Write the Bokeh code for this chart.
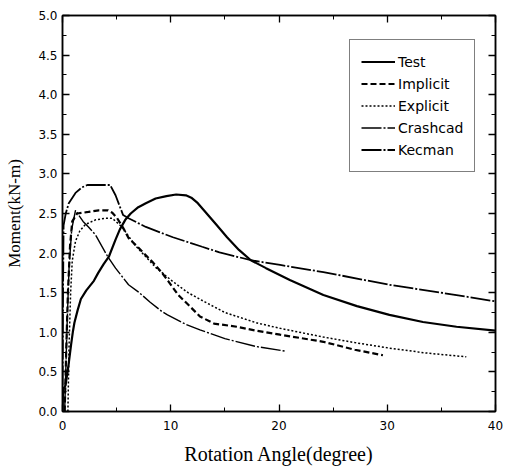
from bokeh.plotting import figure
from bokeh.models import (Range1d, LinearAxis, Legend, LegendItem, SingleIntervalTicker,
                          PrintfTickFormatter, CustomJSTickFormatter)
from bokeh.embed import file_html
from bokeh.resources import INLINE

# ---- data ----
test_x = [0, 0.05, 0.28, 0.57, 0.8, 0.95, 1.1, 1.4, 1.7, 2.2, 2.9, 3.3, 3.8, 4.3, 4.9, 5.3, 5.8,
          6.3, 7.0, 7.7, 8.6, 9.6, 10.5, 11.4, 11.9, 12.5, 13.2, 14.2, 15.2, 16.3, 17.4, 18.8,
          21.0, 24.1, 27.2, 30.2, 33.3, 36.4, 40.0]
test_y = [0, 0.28, 0.33, 0.6, 0.85, 1.0, 1.12, 1.28, 1.42, 1.53, 1.65, 1.75, 1.86, 1.96, 2.17, 2.3, 2.42,
          2.5, 2.58, 2.63, 2.69, 2.72, 2.74, 2.73, 2.7, 2.63, 2.52, 2.36, 2.2, 2.04, 1.91, 1.81,
          1.66, 1.47, 1.33, 1.22, 1.13, 1.07, 1.02]

implicit_x = [0.2, 0.35, 0.5, 0.7, 0.9, 1.35, 2.4, 3.35, 4.2, 4.6, 5.05, 5.6, 6.1, 7.0, 8.3, 9.2,
              9.8, 10.7, 11.6, 12.7, 14.0, 16.1, 17.9, 20.1, 24.1, 27.0, 29.6]
implicit_y = [0, 0.8, 1.5, 2.1, 2.4, 2.5, 2.52, 2.54, 2.54, 2.51, 2.44, 2.32, 2.19, 2.07, 1.89, 1.75,
              1.64, 1.47, 1.35, 1.2, 1.11, 1.07, 1.02, 0.97, 0.88, 0.78, 0.71]

explicit_x = [0.5, 0.6, 0.75, 0.9, 1.2, 1.6, 2.1, 3.05, 4.0, 4.6, 5.5, 6.7, 8.6, 10.2, 11.6, 13.2,
              15.0, 17.9, 20.1, 24.1, 27.0, 30.2, 33.5, 37.3]
explicit_y = [0, 0.8, 1.5, 1.9, 2.15, 2.28, 2.36, 2.42, 2.44, 2.44, 2.33, 2.1, 1.82, 1.64, 1.5, 1.38,
              1.25, 1.12, 1.05, 0.94, 0.87, 0.8, 0.74, 0.69]

crashcad_x = [0.2, 0.4, 0.6, 0.85, 1.2, 1.9, 2.4, 3.05, 4.2, 4.9, 6.1, 7.0, 8.1, 9.2, 9.7, 11.4,
              12.7, 15.0, 17.9, 20.7]
crashcad_y = [0, 1.0, 1.8, 2.3, 2.54, 2.4, 2.33, 2.23, 1.95, 1.81, 1.6, 1.51, 1.38, 1.26, 1.22, 1.1,
              1.03, 0.92, 0.82, 0.76]

kecman_x = [0, 0.05, 0.1, 0.3, 0.58, 1.2, 1.8, 2.3, 4.4, 4.9, 5.6, 6.1, 7.7, 10.2, 12.9, 14.5,
            17.4, 20.1, 24.1, 30.2, 36.4, 40.0]
kecman_y = [0, 1.5, 2.35, 2.5, 2.63, 2.76, 2.83, 2.86, 2.86, 2.73, 2.48, 2.44, 2.33, 2.2, 2.08, 2.01,
            1.91, 1.85, 1.76, 1.6, 1.47, 1.39]

series_names = ["Test", "Implicit", "Explicit", "Crashcad", "Kecman"]

TICK_FONT = "DejaVu Sans"
LABEL_FONT = "Liberation Serif"

p = figure(width=512, height=467, output_backend="svg", toolbar_location=None,
           x_range=Range1d(0, 40), y_range=Range1d(0, 5),
           min_border_left=62, min_border_right=17, min_border_top=15, min_border_bottom=55,
           background_fill_color="white", border_fill_color="white")
p.grid.visible = False
p.outline_line_color = "black"
p.outline_line_width = 1.5


def style_axis(ax):
    ax.axis_line_color = "black"
    ax.axis_line_width = 1.5
    ax.major_tick_in = 7
    ax.major_tick_out = 0
    ax.minor_tick_in = 4
    ax.minor_tick_out = 0
    ax.major_tick_line_width = 1.3
    ax.minor_tick_line_width = 1.0
    ax.major_label_text_font = TICK_FONT
    ax.major_label_text_font_size = "12px"
    ax.major_label_text_color = "black"


p.xaxis.ticker = SingleIntervalTicker(interval=10, num_minor_ticks=2)
p.yaxis.ticker = SingleIntervalTicker(interval=0.5, num_minor_ticks=2)
for ax in p.xaxis + p.yaxis:
    style_axis(ax)
p.yaxis.formatter = PrintfTickFormatter(format="%.1f")
p.xaxis.major_label_standoff = 9
p.yaxis.major_label_standoff = 5

p.xaxis.axis_label = "Rotation Angle(degree)"
p.yaxis.axis_label = "Moment(kN-m)"
for ax in p.xaxis + p.yaxis:
    ax.axis_label_text_font = LABEL_FONT
    ax.axis_label_text_font_style = "normal"
    ax.axis_label_text_color = "black"
p.xaxis.axis_label_text_font_size = "20px"
p.yaxis.axis_label_text_font_size = "17px"
p.xaxis.axis_label_standoff = 10
p.yaxis.axis_label_standoff = 11

# mirrored tick marks on the top and right edges (no labels)
blank = CustomJSTickFormatter(code="return '';")
top_ax = LinearAxis(ticker=SingleIntervalTicker(interval=10, num_minor_ticks=2), formatter=blank)
right_ax = LinearAxis(ticker=SingleIntervalTicker(interval=0.5, num_minor_ticks=2), formatter=blank)
for ax in (top_ax, right_ax):
    style_axis(ax)
    ax.major_label_standoff = 0
p.add_layout(top_ax, "above")
p.add_layout(right_ax, "right")

r_test = p.line(test_x, test_y, line_color="black", line_width=2.2)
r_imp = p.line(implicit_x, implicit_y, line_color="black", line_width=2.2, line_dash="6 3")
r_exp = p.line(explicit_x, explicit_y, line_color="black", line_width=1.5, line_dash="2 2")
r_cra = p.line(crashcad_x, crashcad_y, line_color="black", line_width=1.4, line_dash="20 2 2 2")
r_kec = p.line(kecman_x, kecman_y, line_color="black", line_width=1.8, line_dash="20 2 2 2")

renderers = [r_test, r_imp, r_exp, r_cra, r_kec]
legend = Legend(items=[LegendItem(label=n, renderers=[r]) for n, r in zip(series_names, renderers)],
                location=(287, 239))
legend.border_line_color = "black"
legend.border_line_width = 1
legend.background_fill_color = "white"
legend.background_fill_alpha = 1
legend.label_text_font = TICK_FONT
legend.label_text_font_size = "14px"
legend.label_text_color = "black"
legend.glyph_width = 34
legend.glyph_height = 21
legend.label_height = 21
legend.label_standoff = 3
legend.spacing = 1
legend.padding = 11
legend.margin = 0
p.add_layout(legend, "center")

open("out.html", "w").write(file_html(p, INLINE))
